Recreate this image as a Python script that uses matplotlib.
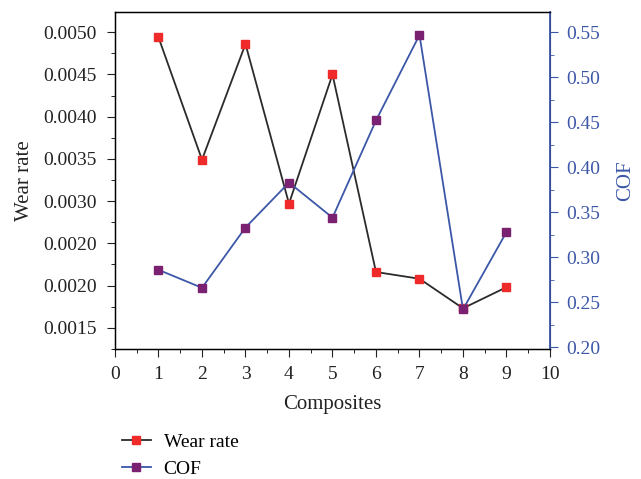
import matplotlib.pyplot as plt
from matplotlib.ticker import MultipleLocator, FixedLocator
import numpy as np

# donnees
composites = [1, 2, 3, 4, 5, 6, 7, 8, 9]
wear_rate = [0.00494, 0.00349, 0.00486, 0.00297, 0.00450, 0.00216, 0.00208, 0.00173, 0.00198]
cof = [0.286, 0.266, 0.333, 0.383, 0.344, 0.452, 0.547, 0.242, 0.328]
wear_ticks = [0.0015, 0.0020, 0.0025, 0.0030, 0.0035, 0.0040, 0.0045, 0.0050]
wear_tick_labels = ["0.0015", "0.0020", "0.0020", "0.0030", "0.0035", "0.0040", "0.0045", "0.0050"]
cof_ticks = [0.20, 0.25, 0.30, 0.35, 0.40, 0.45, 0.50, 0.55]

plt.rcParams['font.family'] = ['Liberation Serif', 'DejaVu Serif']
blue = '#3c57a8'

fig = plt.figure(figsize=(6.41, 4.79), dpi=100)
ax = fig.add_axes([0.1794, 0.2714, 0.6786, 0.7036])
ax2 = ax.twinx()

l1, = ax.plot(composites, wear_rate, color='#2b2b2b', lw=1.3, marker='s', markersize=6,
              markerfacecolor='#ee2a2a', markeredgecolor='#ee2a2a', label="Wear rate")
l2, = ax2.plot(composites, cof, color=blue, lw=1.3, marker='s', markersize=6,
               markerfacecolor='#7b2171', markeredgecolor='#7b2171', label="COF")

ax.set_xlim(0, 10)
ax.set_ylim(0.001248, 0.00524)
ax2.set_ylim(0.198, 0.5726)

ax.xaxis.set_major_locator(MultipleLocator(1))
ax.xaxis.set_minor_locator(MultipleLocator(0.5))
ax.yaxis.set_major_locator(FixedLocator(wear_ticks))
ax.set_yticklabels(wear_tick_labels)
ax.yaxis.set_minor_locator(MultipleLocator(0.00025))
ax2.yaxis.set_major_locator(FixedLocator(cof_ticks))
ax2.set_yticklabels([f"{t:.2f}" for t in cof_ticks])
ax2.yaxis.set_minor_locator(MultipleLocator(0.025))

ax.tick_params(which='major', direction='out', length=6, labelsize=14, colors='#222222')
ax.tick_params(axis='y', which='major', pad=7)
ax.tick_params(axis='x', which='major', pad=6)
ax.tick_params(which='minor', direction='out', length=3)
ax2.tick_params(which='major', direction='out', length=6, labelsize=14, colors=blue, pad=6)
ax2.tick_params(which='minor', direction='out', length=3, colors=blue)
ax2.spines['right'].set_color(blue)
ax2.spines['right'].set_linewidth(1.3)
for s in ['left', 'bottom', 'top']:
    ax.spines[s].set_linewidth(1.0)

ax.set_xlabel("Composites", fontsize=15, color='#222222', labelpad=9)
ax.set_ylabel("Wear rate", fontsize=15, color='#222222', labelpad=7)
ax2.set_ylabel("COF", fontsize=15, color=blue, labelpad=11)

fig.legend(handles=[l1, l2], loc='upper left', bbox_to_anchor=(0.178, 0.111), frameon=False,
           fontsize=14, handlelength=1.5, handletextpad=0.65, labelspacing=0.45,
           borderaxespad=0)

plt.savefig('out.png')
plt.close()
